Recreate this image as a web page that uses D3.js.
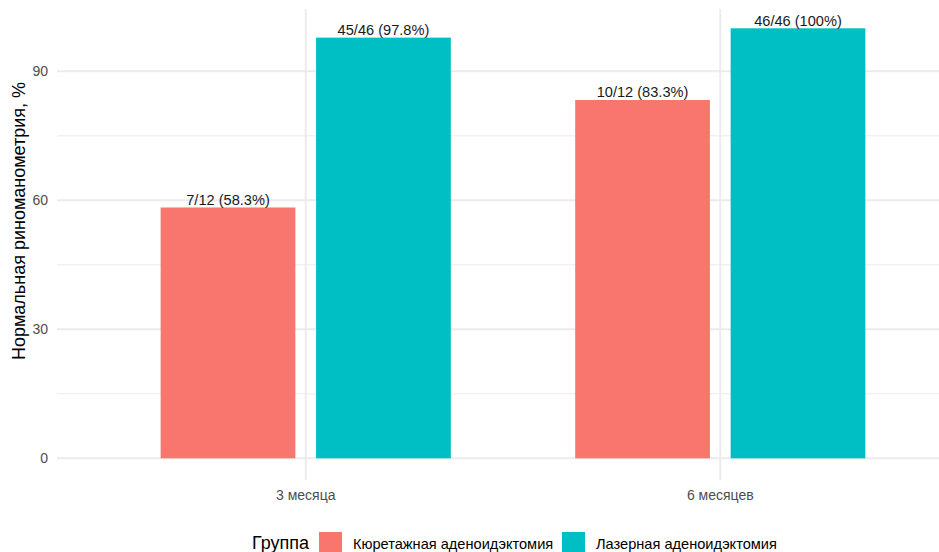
<!DOCTYPE html>
<html>
<head>
<meta charset="utf-8">
<script src="https://cdn.jsdelivr.net/npm/d3@7"></script>
<style>
body { margin: 0; background: #fff; }
text { font-family: "Liberation Sans", Arial, sans-serif; }
</style>
</head>
<body>
<script>
var w = 939,
    h = 552;

// data
var periods = ["3 месяца", "6 месяцев"];
var groups = ["Кюретажная аденоидэктомия", "Лазерная аденоидэктомия"];
var colors = ["#F8766D", "#00BFC4"];
var values = [
    [58.33, 97.83],
    [83.33, 100]
];
var labels = [
    ["7/12 (58.3%)", "45/46 (97.8%)"],
    ["10/12 (83.3%)", "46/46 (100%)"]
];
var yTicks = [0, 30, 60, 90];
var yMinor = [15, 45, 75];

var panel = { left: 57, top: 9, right: 969, bottom: 480 };

// discrete x: positions 1,2 with 0.6 expansion
var x = d3.scaleLinear()
    .domain([0.4, 2.6])
    .range([panel.left, panel.right]);

var y = d3.scaleLinear()
    .domain([0, 90])
    .range([458.3, 71.3]);

var dodge = 0.75,
    barW = 0.65 / 2;

var svg = d3.select("body").append("svg")
    .attr("width", w)
    .attr("height", h);

var grid = svg.append("g").attr("class", "grid");

grid.selectAll(".minor")
    .data(yMinor)
    .enter().append("line")
    .attr("x1", panel.left)
    .attr("x2", panel.right)
    .attr("y1", function(d) { return y(d); })
    .attr("y2", function(d) { return y(d); })
    .attr("stroke", "#EBEBEB")
    .attr("stroke-width", 1);

grid.selectAll(".major")
    .data(yTicks)
    .enter().append("line")
    .attr("x1", panel.left)
    .attr("x2", panel.right)
    .attr("y1", function(d) { return y(d); })
    .attr("y2", function(d) { return y(d); })
    .attr("stroke", "#EBEBEB")
    .attr("stroke-width", 1.9);

grid.selectAll(".vmajor")
    .data(periods)
    .enter().append("line")
    .attr("x1", function(d, i) { return x(i + 1); })
    .attr("x2", function(d, i) { return x(i + 1); })
    .attr("y1", panel.top)
    .attr("y2", panel.bottom)
    .attr("stroke", "#EBEBEB")
    .attr("stroke-width", 1.9);

// bars
var bars = [];
periods.forEach(function(p, i) {
    groups.forEach(function(g, j) {
        var c = (i + 1) + (j === 0 ? -dodge / 4 : dodge / 4);
        bars.push({ c: c, v: values[i][j], label: labels[i][j], color: colors[j] });
    });
});

svg.selectAll(".bar")
    .data(bars)
    .enter().append("rect")
    .attr("class", "bar")
    .attr("x", function(d) { return x(d.c - barW / 2); })
    .attr("width", function(d) { return x(d.c + barW / 2) - x(d.c - barW / 2); })
    .attr("y", function(d) { return y(d.v); })
    .attr("height", function(d) { return y(0) - y(d.v); })
    .attr("fill", function(d) { return d.color; });

svg.selectAll(".lbl")
    .data(bars)
    .enter().append("text")
    .attr("class", "lbl")
    .attr("x", function(d) { return x(d.c); })
    .attr("y", function(d) { return y(d.v) - 2.5; })
    .attr("text-anchor", "middle")
    .attr("font-size", 14.6)
    .attr("fill", "#1A1A1A")
    .text(function(d) { return d.label; });

// axes text
svg.selectAll(".ytick")
    .data(yTicks)
    .enter().append("text")
    .attr("x", 48)
    .attr("y", function(d) { return y(d); })
    .attr("dy", "0.35em")
    .attr("text-anchor", "end")
    .attr("font-size", 14)
    .attr("fill", "#4D4D4D")
    .text(function(d) { return d; });

svg.selectAll(".xtick")
    .data(periods)
    .enter().append("text")
    .attr("x", function(d, i) { return x(i + 1); })
    .attr("y", 500)
    .attr("text-anchor", "middle")
    .attr("font-size", 14)
    .attr("fill", "#4D4D4D")
    .text(function(d) { return d; });

svg.append("text")
    .attr("transform", "translate(25,221) rotate(-90)")
    .attr("text-anchor", "middle")
    .attr("font-size", 18)
    .attr("fill", "#000")
    .text("Нормальная риноманометрия, %");

// legend
var legend = svg.append("g").attr("transform", "translate(0,549)");

legend.append("text")
    .attr("x", 252)
    .attr("y", 0)
    .attr("font-size", 18)
    .attr("fill", "#000")
    .text("Группа");

var keyX = [319, 562];
groups.forEach(function(g, j) {
    legend.append("rect")
        .attr("x", keyX[j])
        .attr("y", -17)
        .attr("width", 23)
        .attr("height", 23)
        .attr("fill", colors[j]);
    legend.append("text")
        .attr("x", keyX[j] + 34)
        .attr("y", 0)
        .attr("font-size", 14.6)
        .attr("fill", "#000")
        .text(g);
});
</script>
</body>
</html>
